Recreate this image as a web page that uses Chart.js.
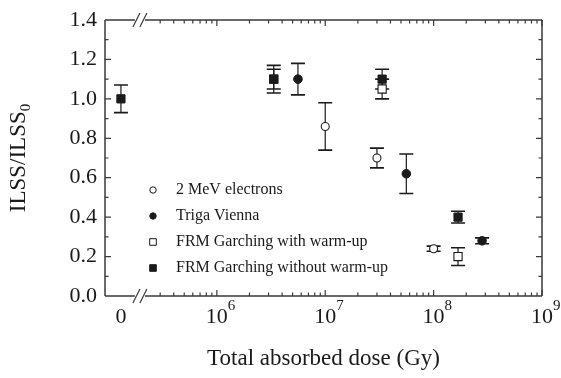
<!DOCTYPE html>
<html>
<head>
<meta charset="utf-8">
<script src="https://cdn.jsdelivr.net/npm/chart.js@4.4.1/dist/chart.umd.min.js"></script>
<style>
  body { margin: 0; background: #fff; }
  canvas { display: block; }
</style>
</head>
<body>
<canvas id="chart" width="561" height="378"></canvas>
<script>
// dose in Gy (0 = unirradiated reference), ILSS ratio and +/- error
const electronDose = [1.0e7, 3.0e7, 1.0e8];
const electronIlss = [0.86, 0.70, 0.24];
const electronErr  = [0.12, 0.05, 0.013];

const trigaDose = [5.6e6, 5.6e7, 2.8e8];
const trigaIlss = [1.10, 0.62, 0.28];
const trigaErr  = [0.08, 0.10, 0.015];

const warmDose = [3.35e6, 3.35e7, 1.68e8];
const warmIlss = [1.10, 1.05, 0.20];
const warmErr  = [0.05, 0.05, 0.045];

const noWarmDose = [0, 3.35e6, 3.35e7, 1.68e8];
const noWarmIlss = [1.00, 1.10, 1.10, 0.40];
const noWarmErr  = [0.07, 0.07, 0.05, 0.03];

const seriesNames = ['2 MeV electrons', 'Triga Vienna', 'FRM Garching with warm-up', 'FRM Garching without warm-up'];
const xTickPowers = [6, 7, 8, 9];
const yTicks = [0.0, 0.2, 0.4, 0.6, 0.8, 1.0, 1.2, 1.4];

// x axis runs in log10 units, the "0" dose sits left of the axis break
const ZERO_AT = 5.115;
const BREAK_AT = 5.29;
const X_MIN = 4.968;
const X_MAX = 9;

const SERIF = '"Liberation Serif", "DejaVu Serif", serif';
const INK = '#1a1a1a';
const AXIS = '#3a3a3a';

function toPoints(dose, ilss, err) {
    return dose.map((d, i) => ({
        x: d === 0 ? ZERO_AT : Math.log10(d),
        y: ilss[i],
        err: err[i]
    }));
}

const errorBars = {
    id: 'errorBars',
    beforeDatasetsDraw(chart) {
        const { ctx, scales: { x, y } } = chart;
        ctx.save();
        ctx.strokeStyle = INK;
        chart.data.datasets.forEach(ds => {
            ds.data.forEach(p => {
                const px = x.getPixelForValue(p.x);
                const top = y.getPixelForValue(p.y + p.err);
                const bot = y.getPixelForValue(p.y - p.err);
                ctx.lineWidth = 1.2;
                ctx.beginPath();
                ctx.moveTo(px, top);
                ctx.lineTo(px, bot);
                ctx.stroke();
                ctx.lineWidth = 1.6;
                ctx.beginPath();
                ctx.moveTo(px - 7, top);
                ctx.lineTo(px + 7, top);
                ctx.moveTo(px - 7, bot);
                ctx.lineTo(px + 7, bot);
                ctx.stroke();
            });
        });
        ctx.restore();
    }
};

const frame = {
    id: 'frame',
    afterDraw(chart) {
        const { ctx, chartArea: a, scales: { x, y } } = chart;
        ctx.save();
        ctx.strokeStyle = AXIS;
        ctx.lineWidth = 1.5;

        // box with a gap for the break on top and bottom
        const bx = x.getPixelForValue(BREAK_AT);
        ctx.beginPath();
        ctx.moveTo(a.left, a.top); ctx.lineTo(a.left, a.bottom);
        ctx.moveTo(a.right, a.top); ctx.lineTo(a.right, a.bottom);
        [a.top, a.bottom].forEach(yy => {
            ctx.moveTo(a.left, yy); ctx.lineTo(bx - 5, yy);
            ctx.moveTo(bx + 5, yy); ctx.lineTo(a.right, yy);
        });
        ctx.stroke();

        ctx.lineWidth = 1.2;
        ctx.beginPath();
        [a.top, a.bottom].forEach(yy => {
            [-3.5, 3.5].forEach(off => {
                ctx.moveTo(bx + off - 3.5, yy + 7);
                ctx.lineTo(bx + off + 3.5, yy - 7);
            });
        });
        ctx.stroke();

        // inward ticks
        ctx.lineWidth = 1.2;
        ctx.beginPath();
        xTickPowers.forEach(p => {
            const px = x.getPixelForValue(p);
            ctx.moveTo(px, a.bottom); ctx.lineTo(px, a.bottom - 6);
            ctx.moveTo(px, a.top); ctx.lineTo(px, a.top + 6);
        });
        for (let p = 5; p < 9; p++) {
            for (let k = 2; k <= 9; k++) {
                const v = p + Math.log10(k);
                if (v < BREAK_AT + 0.1) continue;
                const px = x.getPixelForValue(v);
                ctx.moveTo(px, a.bottom); ctx.lineTo(px, a.bottom - 3.5);
                ctx.moveTo(px, a.top); ctx.lineTo(px, a.top + 3.5);
            }
        }
        for (let v = 0.1; v < 1.4; v += 0.1) {
            const py = y.getPixelForValue(v);
            const len = Math.abs(Math.round(v * 10) % 2) === 0 ? 6 : 3.5;
            ctx.moveTo(a.left, py); ctx.lineTo(a.left + len, py);
            ctx.moveTo(a.right, py); ctx.lineTo(a.right - len, py);
        }
        ctx.stroke();

        // tick labels
        ctx.fillStyle = INK;
        ctx.font = '22px ' + SERIF;
        ctx.textAlign = 'right';
        ctx.textBaseline = 'middle';
        yTicks.forEach(v => {
            ctx.fillText(v.toFixed(1), a.left - 8, y.getPixelForValue(v));
        });

        ctx.textAlign = 'center';
        ctx.fillText('0', x.getPixelForValue(ZERO_AT), a.bottom + 21);
        xTickPowers.forEach(p => {
            const px = x.getPixelForValue(p);
            ctx.font = '22px ' + SERIF;
            ctx.textAlign = 'center';
            const w = ctx.measureText('10').width;
            ctx.fillText('10', px, a.bottom + 21);
            ctx.font = '15px ' + SERIF;
            ctx.textAlign = 'left';
            ctx.fillText(String(p), px + w / 2, a.bottom + 10);
        });

        // axis titles
        ctx.font = '23px ' + SERIF;
        ctx.textAlign = 'center';
        ctx.fillText('Total absorbed dose (Gy)', (a.left + a.right) / 2, 359);

        ctx.save();
        ctx.translate(25, (a.top + a.bottom) / 2);
        ctx.rotate(-Math.PI / 2);
        ctx.textBaseline = 'alphabetic';
        ctx.textAlign = 'left';
        ctx.font = '23px ' + SERIF;
        const mainW = ctx.measureText('ILSS/ILSS').width;
        ctx.font = '15px ' + SERIF;
        const subW = ctx.measureText('0').width;
        const start = -(mainW + subW) / 2;
        ctx.font = '23px ' + SERIF;
        ctx.fillText('ILSS/ILSS', start, 0);
        ctx.font = '15px ' + SERIF;
        ctx.fillText('0', start + mainW, 5);
        ctx.restore();

        // legend
        ctx.font = '16px ' + SERIF;
        ctx.textAlign = 'left';
        ctx.textBaseline = 'middle';
        ctx.lineWidth = 1;
        chart.data.datasets.forEach((ds, i) => {
            const ly = 190 + i * 26;
            const lx = 153;
            ctx.fillStyle = ds.backgroundColor;
            ctx.strokeStyle = INK;
            ctx.beginPath();
            if (ds.pointStyle === 'circle') {
                ctx.arc(lx, ly, 3.2, 0, Math.PI * 2);
            } else {
                ctx.rect(lx - 3.3, ly - 3.3, 6.6, 6.6);
            }
            ctx.fill();
            ctx.stroke();
            ctx.fillStyle = INK;
            ctx.fillText(ds.label, 176, ly);
        });
        ctx.restore();
    }
};

new Chart(document.getElementById('chart'), {
    type: 'scatter',
    data: {
        datasets: [
            {
                label: seriesNames[0],
                data: toPoints(electronDose, electronIlss, electronErr),
                pointStyle: 'circle', pointRadius: 4, borderWidth: 1.1,
                backgroundColor: '#ffffff', borderColor: INK, order: 1
            },
            {
                label: seriesNames[1],
                data: toPoints(trigaDose, trigaIlss, trigaErr),
                pointStyle: 'circle', pointRadius: 4.3, borderWidth: 1,
                backgroundColor: INK, borderColor: INK, order: 2
            },
            {
                label: seriesNames[2],
                data: toPoints(warmDose, warmIlss, warmErr),
                pointStyle: 'rect', pointRadius: 5.8, borderWidth: 1.1,
                backgroundColor: '#ffffff', borderColor: INK, order: 3
            },
            {
                label: seriesNames[3],
                data: toPoints(noWarmDose, noWarmIlss, noWarmErr),
                pointStyle: 'rect', pointRadius: 5.8, borderWidth: 1,
                backgroundColor: INK, borderColor: INK, order: 0
            }
        ]
    },
    options: {
        responsive: false,
        animation: false,
        events: [],
        clip: false,
        layout: { padding: { left: 105, right: 19, top: 20, bottom: 82 } },
        scales: {
            x: { type: 'linear', min: X_MIN, max: X_MAX, display: false },
            y: { type: 'linear', min: 0, max: 1.4, display: false }
        },
        plugins: {
            legend: { display: false },
            tooltip: { enabled: false }
        }
    },
    plugins: [errorBars, frame]
});
</script>
</body>
</html>
